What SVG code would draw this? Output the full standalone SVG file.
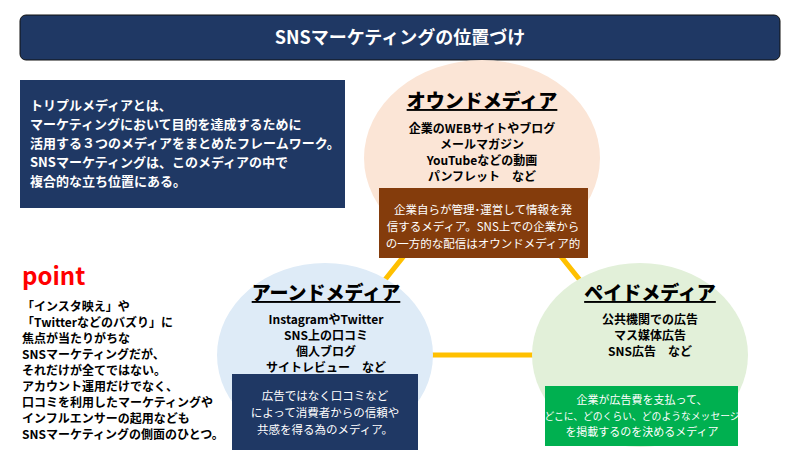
<svg xmlns="http://www.w3.org/2000/svg" width="800" height="450" viewBox="0 0 800 450">
<style>
text{font-family:"Noto Sans CJK JP","Noto Sans",sans-serif;}
.b{font-weight:bold}
.h{font-size:19px;font-weight:900;text-anchor:middle;text-decoration:underline}
.c{font-size:12px;font-weight:bold;text-anchor:middle;fill:#000}
.w{font-size:11.5px;text-anchor:middle;fill:#fff}
.p{font-size:12px;font-weight:bold;fill:#000}
</style>
<rect width="800" height="450" fill="#fff"/>
<g id="title"><rect x="20" y="15" width="760" height="45" rx="6" fill="#1F3864" stroke="#111" stroke-width="1"/>
<text x="400" y="44" fill="#fff" font-size="18" class="b" text-anchor="middle">SNSマーケティングの位置づけ</text></g>
<g id="intro"><rect x="20" y="80" width="325" height="128" fill="#1F3864"/>
<text x="30" y="110" fill="#fff" font-size="13" class="b"><tspan x="30">トリプルメディアとは、</tspan><tspan x="30" dy="19">マーケティングにおいて目的を達成するために</tspan><tspan x="30" dy="19">活用する３つのメディアをまとめたフレームワーク。</tspan><tspan x="30" dy="19">SNSマーケティングは、このメディアの中で</tspan><tspan x="30" dy="19">複合的な立ち位置にある。</tspan></text></g>
<g id="connectors"><polygon points="482,158 325,355 640,355" fill="none" stroke="#FFC000" stroke-width="5"/></g>
<g id="owned"><ellipse cx="482" cy="158" rx="118" ry="98" fill="#FBE5D6"/>
<text x="482" y="108" class="h">オウンドメディア</text>
<text class="c"><tspan x="482" y="133">企業のWEBサイトやブログ</tspan><tspan x="482" dy="16">メールマガジン</tspan><tspan x="482" dy="16">YouTubeなどの動画</tspan><tspan x="482" dy="16">パンフレット　など</tspan></text>
<rect x="379" y="188" width="209" height="70" fill="#843C0C"/>
<text class="w"><tspan x="483" y="214">企業自らが管理･運営して情報を発</tspan><tspan x="483" dy="17">信するメディア。SNS上での企業から</tspan><tspan x="483" dy="17">の一方的な配信はオウンドメディア的</tspan></text></g>
<g id="earned"><ellipse cx="325" cy="355" rx="108" ry="92" fill="#DEEBF7"/>
<text x="326" y="300" class="h">アーンドメディア</text>
<text class="c"><tspan x="326" y="324">InstagramやTwitter</tspan><tspan x="326" dy="16">SNS上の口コミ</tspan><tspan x="326" dy="16">個人ブログ</tspan><tspan x="326" dy="16">サイトレビュー　など</tspan></text>
<rect x="232" y="374" width="186" height="76" fill="#1F3864"/>
<text class="w"><tspan x="325" y="400">広告ではなく口コミなど</tspan><tspan x="325" dy="17">によって消費者からの信頼や</tspan><tspan x="325" dy="17">共感を得る為のメディア。</tspan></text></g>
<g id="paid"><ellipse cx="640" cy="355" rx="108" ry="92" fill="#E2F0D9"/>
<text x="650" y="300" class="h">ペイドメディア</text>
<text class="c"><tspan x="650" y="324">公共機関での広告</tspan><tspan x="650" dy="16">マス媒体広告</tspan><tspan x="650" dy="16">SNS広告　など</tspan></text>
<rect x="545" y="386" width="193" height="60" fill="#00B050"/>
<text class="w" style="font-size:11px"><tspan x="642" y="404">企業が広告費を支払って、</tspan><tspan x="642" dy="16" style="font-size:9.8px">どこに、どのくらい、どのようなメッセージ</tspan><tspan x="642" dy="16">を掲載するのを決めるメディア</tspan></text></g>
<g id="point"><text x="22" y="285" fill="#FF0000" font-size="24" class="b">point</text>
<text class="p"><tspan x="22" y="311">「インスタ映え」や</tspan><tspan x="22" dy="16">「Twitterなどのバズり」に</tspan><tspan x="22" dy="16">焦点が当たりがちな</tspan><tspan x="22" dy="16">SNSマーケティングだが、</tspan><tspan x="22" dy="16">それだけが全てではない。</tspan><tspan x="22" dy="16">アカウント運用だけでなく、</tspan><tspan x="22" dy="16">口コミを利用したマーケティングや</tspan><tspan x="22" dy="16">インフルエンサーの起用なども</tspan><tspan x="22" dy="16">SNSマーケティングの側面のひとつ。</tspan></text></g>
</svg>
